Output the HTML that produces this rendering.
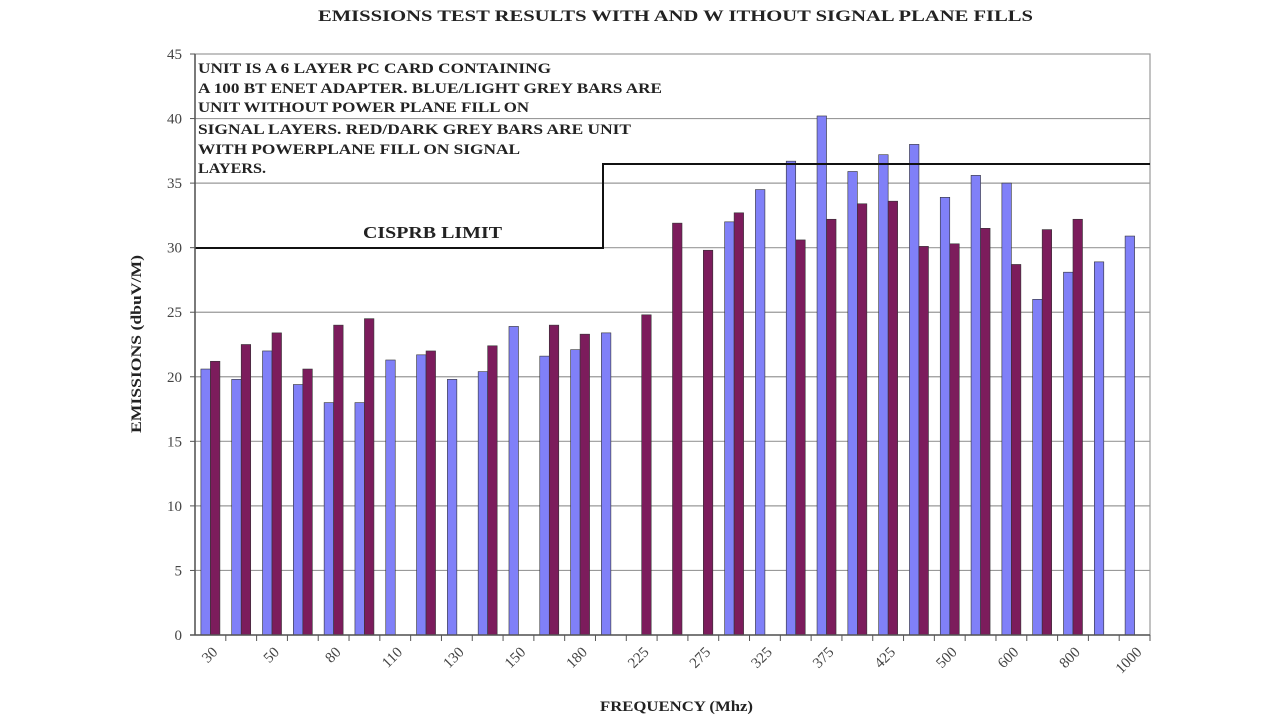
<!DOCTYPE html>
<html><head><meta charset="utf-8"><style>
html,body{margin:0;padding:0;background:#fff;}
svg{display:block;font-family:"Liberation Serif",serif;}
</style></head><body>
<svg width="1280" height="720" viewBox="0 0 1280 720">
<text x="318" y="21" textLength="715" lengthAdjust="spacingAndGlyphs" font-size="16" font-weight="bold" fill="#222">EMISSIONS TEST RESULTS WITH AND W ITHOUT SIGNAL PLANE FILLS</text>
<g id="grid" stroke="#999" stroke-width="1.2"></g>
<rect x="195" y="54" width="955" height="581" fill="none" stroke="#999" stroke-width="1.2"/>
<g id="bars" stroke="#333" stroke-width="0.6"></g>
<polyline points="195,248 603,248 603,164 1150,164" fill="none" stroke="#111" stroke-width="2"/>
<line x1="195" y1="54" x2="195" y2="635" stroke="#555" stroke-width="1.5"/>
<line x1="190" y1="635" x2="1150" y2="635" stroke="#555" stroke-width="1.5"/>
<g id="ax" font-size="15" fill="#444"></g>
<g font-size="15" font-weight="bold" fill="#222" lengthAdjust="spacingAndGlyphs">
<text x="198" y="73" textLength="353" lengthAdjust="spacingAndGlyphs">UNIT IS A 6 LAYER PC CARD  CONTAINING</text>
<text x="198" y="93" textLength="464" lengthAdjust="spacingAndGlyphs">A 100 BT ENET ADAPTER.  BLUE/LIGHT GREY  BARS ARE</text>
<text x="198" y="112" textLength="331" lengthAdjust="spacingAndGlyphs">UNIT WITHOUT POWER PLANE FILL ON</text>
<text x="198" y="134" textLength="433" lengthAdjust="spacingAndGlyphs">SIGNAL LAYERS.  RED/DARK GREY  BARS ARE UNIT</text>
<text x="198" y="154" textLength="322" lengthAdjust="spacingAndGlyphs">WITH  POWERPLANE  FILL ON SIGNAL</text>
<text x="198" y="173" textLength="68" lengthAdjust="spacingAndGlyphs">LAYERS.</text>
<text x="363" y="238" font-size="17" textLength="139" lengthAdjust="spacingAndGlyphs">CISPRB LIMIT</text>
</g>
<text x="600" y="711" textLength="153" lengthAdjust="spacingAndGlyphs" font-size="15" font-weight="bold" fill="#222">FREQUENCY  (Mhz)</text>
<text transform="translate(141,433) rotate(-90)" textLength="178" lengthAdjust="spacingAndGlyphs" font-size="15" font-weight="bold" fill="#222">EMISSIONS  (dbuV/M)</text>
</svg>
<script>
var ns="http://www.w3.org/2000/svg";
function el(p,t,a,txt){var e=document.createElementNS(ns,t);for(var k in a)e.setAttribute(k,a[k]);if(txt!=null)e.textContent=txt;p.appendChild(e);return e;}
var Y=function(v){return 635-v*581/45;};
var g=document.getElementById('grid'),b=document.getElementById('bars'),ax=document.getElementById('ax');
for(var v=0;v<=45;v+=5){var y=Y(v);if(v>0&&v<45)el(g,'line',{x1:195,x2:1150,y1:y,y2:y});el(ax,'line',{x1:190,x2:195,y1:y,y2:y,stroke:'#555'});el(ax,'text',{x:182,y:y+5,'text-anchor':'end'},v);}
var d=[[20.6,21.2],[19.8,22.5],[22,23.4],[19.4,20.6],[18,24],[18,24.5],[21.3,0],[21.7,22],[19.8,0],[20.4,22.4],[23.9,0],[21.6,24],[22.1,23.3],[23.4,0],[0,24.8],[0,31.9],[0,29.8],[32,32.7],[34.5,0],[36.7,30.6],[40.2,32.2],[35.9,33.4],[37.2,33.6],[38,30.1],[33.9,30.3],[35.6,31.5],[35,28.7],[26,31.4],[28.1,32.2],[28.9,0],[30.9,0]];
var labs=['30','50','80','110','130','150','180','225','275','325','375','425','500','600','800','1000'];
var w=955/31;
for(var i=0;i<31;i++){var c=195+(i+0.5)*w;
if(d[i][0])el(b,'rect',{x:c-9.5,y:Y(d[i][0]),width:9.5,height:635-Y(d[i][0]),fill:'#8080f8'});
if(d[i][1])el(b,'rect',{x:c,y:Y(d[i][1]),width:9.5,height:635-Y(d[i][1]),fill:'#7c1c5c'});
var tx=195+(i+1)*w;el(ax,'line',{x1:tx,x2:tx,y1:635,y2:641,stroke:'#555'});
if(i%2==0){el(ax,'text',{transform:'translate('+(c+8)+',653) rotate(-45)','text-anchor':'end'},labs[i/2]);}
}
</script>
</body></html>
